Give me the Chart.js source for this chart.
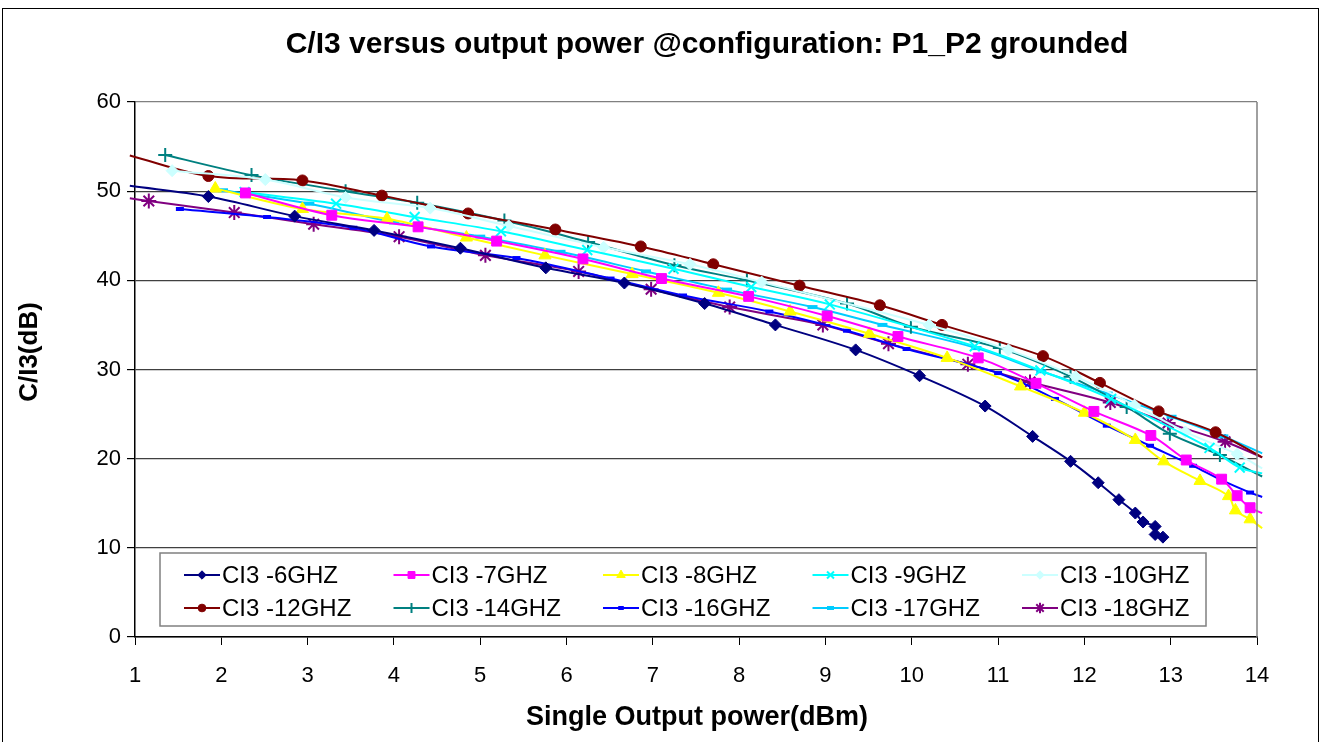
<!DOCTYPE html>
<html>
<head>
<meta charset="utf-8">
<title>C/I3 versus output power</title>
<script src="https://cdn.jsdelivr.net/npm/chart.js@4.4.0/dist/chart.umd.min.js"></script>
<style>
  html, body { margin: 0; padding: 0; background: #fff; }
</style>
</head>
<body>
<canvas id="chart" width="1323" height="742"></canvas>
<script>
// Values (x = single output power dBm, y = C/I3 dB)
const chartTitle = 'C/I3 versus output power @configuration: P1_P2 grounded';
const xTitle = 'Single Output power(dBm)';
const yTitle = 'C/I3(dB)';
const xMin = 1, xMax = 14, xStep = 1;
const yMin = 0, yMax = 60, yStep = 10;

const seriesNames = ['CI3 -6GHZ', 'CI3 -7GHZ', 'CI3 -8GHZ', 'CI3 -9GHZ', 'CI3 -10GHZ',
                     'CI3 -12GHZ', 'CI3 -14GHZ', 'CI3 -16GHZ', 'CI3 -17GHZ', 'CI3 -18GHZ'];

const x6GHz = [0.94, 1.85, 2.85, 3.77, 4.77, 5.76, 6.67, 7.60, 8.42, 9.35, 10.09, 10.85, 11.40, 11.84, 12.16, 12.40, 12.59, 12.68, 12.82, 12.82, 12.91];
const y6GHz = [50.6, 49.4, 47.2, 45.6, 43.6, 41.4, 39.7, 37.4, 35.0, 32.2, 29.3, 25.9, 22.5, 19.7, 17.3, 15.4, 13.9, 12.9, 12.4, 11.5, 11.2];

const x7GHz = [2.28, 3.28, 4.28, 5.19, 6.19, 7.10, 8.11, 9.02, 9.84, 10.77, 11.44, 12.11, 12.77, 13.18, 13.59, 13.77, 13.92, 14.06];
const y7GHz = [49.8, 47.3, 46.0, 44.4, 42.4, 40.2, 38.2, 36.0, 33.7, 31.3, 28.45, 25.3, 22.6, 19.85, 17.7, 15.85, 14.5, 13.9];

const x8GHz = [1.93, 2.94, 3.92, 4.84, 5.75, 6.76, 7.76, 8.59, 9.51, 10.41, 11.26, 12.00, 12.59, 12.92, 13.34, 13.67, 13.75, 13.92, 14.06];
const y8GHz = [50.3, 48.0, 46.9, 44.8, 42.8, 40.7, 38.6, 36.5, 34.0, 31.3, 28.1, 25.15, 22.1, 19.7, 17.5, 15.8, 14.2, 13.2, 12.2];

const x9GHz = [2.27, 3.33, 4.24, 5.24, 6.24, 7.24, 8.14, 9.05, 10.73, 11.49, 12.31, 13.45, 13.80, 14.06];
const y9GHz = [49.9, 48.6, 47.1, 45.5, 43.4, 41.3, 39.25, 37.3, 32.6, 29.9, 26.7, 21.2, 19.0, 18.35];

const x10GHz = [1.43, 2.51, 3.44, 4.42, 5.33, 6.43, 7.43, 8.26, 10.20, 11.12, 11.90, 12.58, 13.17, 13.77, 14.06];
const y10GHz = [52.3, 51.3, 49.3, 48.1, 46.1, 43.7, 41.8, 39.8, 35.0, 32.2, 29.2, 26.0, 23.0, 20.5, 18.9];

const x12GHz = [0.94, 1.85, 2.94, 3.86, 4.86, 5.87, 6.86, 7.70, 8.70, 9.63, 10.35, 11.52, 12.18, 12.86, 13.52, 14.06];
const y12GHz = [54.0, 51.7, 51.2, 49.5, 47.5, 45.7, 43.8, 41.8, 39.4, 37.2, 35.0, 31.5, 28.5, 25.3, 22.96, 20.15];

const x14GHz = [1.35, 2.35, 3.44, 4.27, 5.28, 6.25, 7.25, 8.09, 9.25, 9.99, 11.02, 11.84, 12.49, 12.99, 13.57, 14.06];
const y14GHz = [54.05, 51.8, 50.0, 48.7, 46.7, 44.3, 41.7, 40.0, 37.4, 34.8, 32.4, 29.2, 25.8, 22.8, 20.4, 18.0];

const x16GHz = [1.52, 2.53, 3.53, 4.43, 5.42, 6.51, 7.35, 8.35, 9.25, 9.94, 11.00, 11.66, 12.26, 12.76, 13.26, 13.59, 13.92, 14.06];
const y16GHz = [48.0, 47.1, 45.9, 43.8, 42.5, 40.2, 38.3, 36.5, 34.35, 32.3, 29.6, 26.7, 23.7, 21.45, 19.2, 17.6, 16.2, 15.7];

const x17GHz = [2.02, 3.02, 4.00, 5.00, 5.93, 6.92, 7.86, 8.85, 9.66, 10.75, 11.50, 12.27, 13.01, 13.61, 14.06];
const y17GHz = [50.1, 48.6, 46.5, 44.9, 43.2, 41.0, 38.96, 37.0, 35.0, 32.4, 29.8, 27.3, 24.7, 22.5, 20.6];

const x18GHz = [0.94, 1.16, 2.15, 3.07, 4.06, 5.06, 6.14, 6.98, 7.89, 8.97, 9.73, 10.65, 11.37, 12.30, 12.97, 13.63, 14.06];
const y18GHz = [49.2, 48.9, 47.6, 46.3, 44.9, 42.8, 41.0, 39.0, 37.0, 35.0, 32.9, 30.6, 28.6, 26.3, 24.0, 21.9, 20.15];

const seriesX = [x6GHz, x7GHz, x8GHz, x9GHz, x10GHz, x12GHz, x14GHz, x16GHz, x17GHz, x18GHz];
const seriesY = [y6GHz, y7GHz, y8GHz, y9GHz, y10GHz, y12GHz, y14GHz, y16GHz, y17GHz, y18GHz];

// Excel-like marker look for each series
const looks = [
  { color: '#000080', point: 'rectRot',  r: 6,   bw: 1 },
  { color: '#FF00FF', point: 'rect',     r: 7,   bw: 1 },
  { color: '#FFFF00', point: 'triangle', r: 7,   bw: 1 },
  { color: '#00FFFF', point: 'crossRot', r: 7,   bw: 2 },
  { color: '#CCFFFF', point: 'rectRot',  r: 6,   bw: 1 },
  { color: '#800000', point: 'circle',   r: 5.5, bw: 1 },
  { color: '#008080', point: 'cross',    r: 7,   bw: 2 },
  { color: '#0000FF', point: 'line',     r: 4,   bw: 4 },
  { color: '#00CCFF', point: 'line',     r: 5,   bw: 4 },
  { color: '#800080', point: 'star',     r: 7.5, bw: 2 }
];

const FONT = '"Liberation Sans", Arial, sans-serif';

// markers of points lying just outside the axis range are not drawn
function markerSize(size) {
  return c => (c.raw && (c.raw.x < xMin || c.raw.x > xMax)) ? 0 : size;
}

const datasets = seriesNames.map((name, i) => ({
  label: name,
  data: seriesX[i].map((x, k) => ({ x: x, y: seriesY[i][k] })),
  borderColor: looks[i].color,
  backgroundColor: looks[i].color,
  borderWidth: 2,
  pointStyle: looks[i].point,
  pointRadius: markerSize(looks[i].r),
  pointBorderWidth: looks[i].bw,
  pointBackgroundColor: looks[i].color,
  pointBorderColor: looks[i].color,
  tension: 0.35,
  showLine: true,
  clip: { left: 8, right: 8, top: 4, bottom: 4 }
}));

// title, axis titles, legend box and frames
const decorations = {
  id: 'decorations',
  beforeDraw(chart) {
    const ctx = chart.ctx;
    ctx.save();
    ctx.fillStyle = '#fff';
    ctx.fillRect(0, 0, chart.width, chart.height);
    ctx.restore();
  },
  afterDraw(chart) {
    const ctx = chart.ctx;
    const a = chart.chartArea;
    ctx.save();

    // plot area right edge
    ctx.strokeStyle = '#808080';
    ctx.lineWidth = 1.5;
    ctx.beginPath();
    ctx.moveTo(a.right, a.top);
    ctx.lineTo(a.right, a.bottom);
    ctx.stroke();

    // outer chart border
    ctx.strokeStyle = '#000';
    ctx.lineWidth = 1;
    ctx.strokeRect(2.5, 8.5, 1316, 760);

    ctx.fillStyle = '#000';
    ctx.textAlign = 'center';
    ctx.textBaseline = 'middle';
    ctx.font = 'bold 30px ' + FONT;
    ctx.fillText(chartTitle, 707, 45);
    ctx.font = 'bold 27px ' + FONT;
    ctx.fillText(xTitle, 697, 718);
    ctx.save();
    ctx.translate(30, 352);
    ctx.rotate(-Math.PI / 2);
    ctx.font = 'bold 26px ' + FONT;
    ctx.fillText(yTitle, 0, 0);
    ctx.restore();

    // legend
    const box = { x: 160, y: 553, w: 1046, h: 73 };
    ctx.fillStyle = '#fff';
    ctx.fillRect(box.x, box.y, box.w, box.h);
    ctx.strokeStyle = '#808080';
    ctx.lineWidth = 1.5;
    ctx.strokeRect(box.x, box.y, box.w, box.h);
    ctx.font = '24px ' + FONT;
    ctx.textAlign = 'left';
    seriesNames.forEach((name, i) => {
      const col = i % 5, row = Math.floor(i / 5);
      const x0 = 184 + col * 209.5;
      const y0 = 575 + row * 33;
      const lk = looks[i];
      ctx.strokeStyle = lk.color;
      ctx.fillStyle = lk.color;
      ctx.lineWidth = 2;
      ctx.beginPath();
      ctx.moveTo(x0, y0);
      ctx.lineTo(x0 + 36, y0);
      ctx.stroke();
      ctx.lineWidth = lk.bw;
      Chart.helpers.drawPoint(ctx, {
        pointStyle: lk.point, radius: lk.r * 0.7, rotation: 0, borderWidth: lk.bw
      }, x0 + 18, y0);
      ctx.fillStyle = '#000';
      ctx.fillText(name, x0 + 38, y0 + 1);
    });

    ctx.restore();
  }
};

new Chart(document.getElementById('chart').getContext('2d'), {
  type: 'scatter',
  data: { datasets: datasets },
  plugins: [decorations],
  options: {
    responsive: false,
    animation: false,
    events: [],
    layout: { padding: { left: 0, right: 66, top: 102, bottom: 0 } },
    plugins: {
      legend: { display: false },
      title: { display: false },
      tooltip: { enabled: false }
    },
    scales: {
      x: {
        type: 'linear',
        min: xMin, max: xMax,
        ticks: { stepSize: xStep, color: '#000', font: { family: FONT, size: 22 }, padding: 18, maxRotation: 0 },
        grid: { drawOnChartArea: false, drawTicks: true, tickLength: 8, tickColor: '#000' },
        border: { color: '#000', width: 1.5 },
        afterFit: s => { s.height = 105; }
      },
      y: {
        min: yMin, max: yMax,
        ticks: { stepSize: yStep, color: '#000', font: { family: FONT, size: 22 }, padding: 6 },
        grid: {
          color: c => (c.tick && c.tick.value === yMax) ? '#808080' : '#404040',
          lineWidth: 1.2, tickLength: 8, tickColor: '#000'
        },
        border: { color: '#000', width: 1.5 },
        afterFit: s => { s.width = 135; }
      }
    }
  }
});
</script>
</body>
</html>
